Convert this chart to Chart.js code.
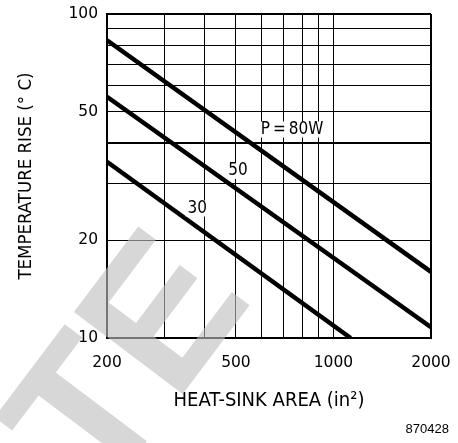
<!DOCTYPE html>
<html>
<head>
  <meta charset="utf-8">
  <script src="https://cdn.jsdelivr.net/npm/chart.js"></script>
  <style>
    html, body { margin: 0; padding: 0; background: #fff; overflow: hidden; }
    .chart-box { width: 458px; height: 443px; }
  </style>
</head>
<body>
  <div class="chart-box">
    <canvas id="heatChart"></canvas>
  </div>
<script>
"use strict";

// heat-sink area (in^2) vs. temperature rise (deg C), one line per dissipated power
const powerLabels = ['P\u2009=\u200980W', '50', '30'];
const areaStart = [200, 200, 200];
const areaEnd = [2000, 2000, 1130];
const riseStart = [83, 55.5, 35];
const riseEnd = [16, 10.8, 10];

// where each power label sits, in data units
const labelArea = [745, 507, 380];
const labelRise = [44, 32.8, 25.1];

// axis ticks
const xTicks = [200, 300, 400, 500, 600, 700, 800, 900, 1000, 2000];
const xTickLabels = ['200', '500', '1000', '2000'];
const yTicks = [10, 20, 30, 40, 50, 60, 70, 80, 90, 100];
const yTickLabels = ['10', '20', '50', '100'];

const condensed = "'DejaVu Sans Condensed', 'Liberation Sans Narrow', 'DejaVu Sans', sans-serif";

const datasets = powerLabels.map((name, i) => ({
  label: name,
  data: [
    { x: areaStart[i], y: riseStart[i] },
    { x: areaEnd[i], y: riseEnd[i] }
  ],
  borderColor: '#000',
  borderWidth: 4.5,
  borderCapStyle: 'butt',
  pointRadius: 0,
  fill: false
}));

// text drawn inside the plot plus the stamp and watermark
const extras = {
  id: 'extras',
  afterDatasetsDraw(chart) {
    const ctx = chart.ctx;
    const xs = chart.scales.x, ys = chart.scales.y;
    ctx.save();
    ctx.font = "17px " + condensed;
    ctx.textAlign = 'center';
    ctx.textBaseline = 'middle';
    powerLabels.forEach((t, i) => {
      const px = xs.getPixelForValue(labelArea[i]);
      const py = ys.getPixelForValue(labelRise[i]);
      // white patch behind the text so the grid does not run through it
      const w = ctx.measureText(t).width + 4;
      ctx.fillStyle = '#fff';
      ctx.fillRect(px - w / 2, py - 8, w, 16);
      ctx.fillStyle = '#000';
      ctx.fillText(t, px, py);
    });
    ctx.restore();
  },
  afterDraw(chart) {
    const ctx = chart.ctx;
    ctx.save();
    ctx.fillStyle = '#000';
    ctx.font = "13px 'Liberation Sans', Arial, sans-serif";
    ctx.textAlign = 'right';
    ctx.textBaseline = 'alphabetic';
    ctx.fillText('870428', 449, 433);

    ctx.font = "bold 198px 'Liberation Sans', Arial, sans-serif";
    ctx.textAlign = 'left';
    ctx.fillStyle = 'rgba(190, 190, 190, 0.62)';
    ctx.translate(102, 501);
    ctx.rotate(-53 * Math.PI / 180);
    ctx.fillText('TE', 0, 0);
    ctx.restore();
  }
};

const thickAt = v => (v === 40 || v === 100 || v === 2000) ? 2 : 1;

new Chart(document.getElementById('heatChart'), {
  type: 'line',
  data: { datasets: datasets },
  plugins: [extras],
  options: {
    responsive: true,
    maintainAspectRatio: false,
    animation: false,
    layout: { padding: { top: 14, right: 27, left: 0, bottom: 0 } },
    plugins: {
      legend: { display: false },
      tooltip: { enabled: false }
    },
    scales: {
      x: {
        type: 'logarithmic',
        min: 200,
        max: 2000,
        afterFit(scale) {
          scale.height = 105;
          scale.paddingLeft = 0;
          scale.paddingRight = 0;
        },
        afterBuildTicks(scale) { scale.ticks = xTicks.map(v => ({ value: v })); },
        ticks: {
          autoSkip: false,
          maxRotation: 0,
          padding: 16,
          color: '#000',
          font: { family: "'DejaVu Sans'", size: 15.5 },
          callback: v => xTickLabels.includes(String(v)) ? String(v) : ''
        },
        grid: {
          color: '#000',
          lineWidth: c => thickAt(c.tick ? c.tick.value : 0),
          drawTicks: false
        },
        border: { display: true, color: '#000', width: 2 },
        title: {
          display: true,
          text: 'HEAT-SINK AREA (in²)',
          color: '#000',
          font: { family: condensed, size: 20 },
          padding: { top: 0, bottom: 30 }
        }
      },
      y: {
        type: 'logarithmic',
        min: 10,
        max: 100,
        afterFit(scale) {
          scale.width = 107;
          scale.paddingTop = 0;
          scale.paddingBottom = 0;
        },
        afterBuildTicks(scale) { scale.ticks = yTicks.map(v => ({ value: v })); },
        ticks: {
          autoSkip: false,
          padding: 9,
          color: '#000',
          font: { family: "'DejaVu Sans'", size: 15.5 },
          callback: v => yTickLabels.includes(String(v)) ? String(v) : ''
        },
        grid: {
          color: '#000',
          lineWidth: c => thickAt(c.tick ? c.tick.value : 0),
          drawTicks: false
        },
        border: { display: true, color: '#000', width: 2 },
        title: {
          display: true,
          text: 'TEMPERATURE RISE (° C)',
          color: '#000',
          font: { family: condensed, size: 18.5 },
          padding: { top: 15, bottom: 0 }
        }
      }
    }
  }
});
</script>
</body>
</html>
